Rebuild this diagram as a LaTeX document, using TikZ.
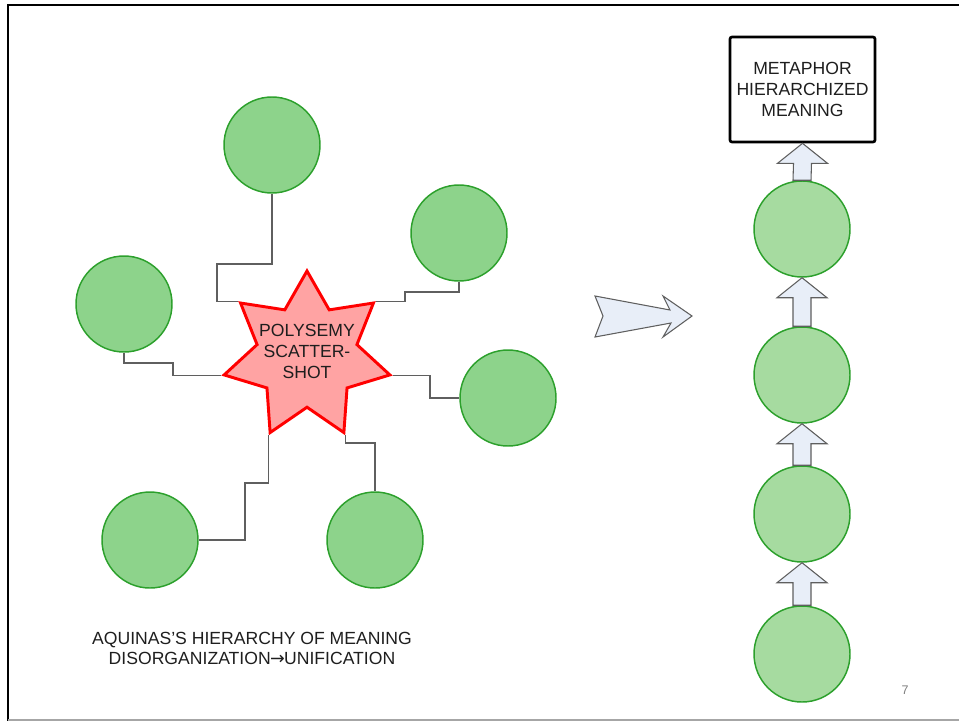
\documentclass[tikz,border=0pt]{standalone}
\usepackage{fontspec}
\setmainfont{Liberation Sans}
\newfontfamily\arrowfont{DejaVu Sans}
\usepackage{tikz}
\usetikzlibrary{shapes.geometric,calc}
\definecolor{leafgreen} {RGB}{141,211,139}
\definecolor{stemgreen} {RGB}{166,219,160}
\definecolor{ringgreen} {RGB}{44,160,44}
\definecolor{starpink}  {RGB}{255,163,163}
\definecolor{arrowblue} {RGB}{232,238,248}
\definecolor{linegray}  {RGB}{95,95,95}
\definecolor{inkgray}   {RGB}{30,30,30}
\tikzset{
  leaf/.style   ={circle, draw=ringgreen, line width=1.1pt, fill=leafgreen,
                  minimum size=72pt, inner sep=0pt},
  stem/.style   ={leaf, fill=stemgreen},
  burst/.style  ={star, star points=7, star point ratio=1.66,
                  draw=red, line width=2.2pt, fill=starpink,
                  minimum size=127.5pt, inner sep=0pt},
  lbl/.style    ={align=center, text=inkgray, inner sep=0pt,
                  font=\fontsize{13.2pt}{15.75pt}\selectfont},
  topbox/.style ={draw=black, line width=2pt, rounded corners=1.5pt,
                  fill=white, minimum width=108.75pt, minimum height=78.75pt,
                  lbl},
  link/.style   ={draw=linegray, line width=0.9pt},
  blockarr/.style={draw=linegray, line width=0.8pt, fill=arrowblue,
                  line join=miter},
}
% upward block arrow from node #1 (base) to node #2 (tip)
\newcommand{\uparr}[2]{%
  \draw[blockarr] ($(#1.north)+(-6.75pt,0)$) -- ($(#2.south)+(-6.75pt,-15pt)$)
    -- ($(#2.south)+(-18.75pt,-15pt)$) -- (#2.south)
    -- ($(#2.south)+(18.75pt,-15pt)$) -- ($(#2.south)+(6.75pt,-15pt)$)
    -- ($(#1.north)+(6.75pt,0)$) -- cycle;}

\begin{document}
\begin{tikzpicture}[x=0.75pt,y=-0.75pt]
  \useasboundingbox (0,0) rectangle (959,721);
  % frame
  \draw[line width=2pt] (959,5) -- (8,5) -- (8,721);
  \draw[gray!70, line width=0.9pt] (8,720) -- (959,720);

  % scattered meanings
  \node[burst] (star) at (307,356) {};
  \node[lbl] (poly) at (307,351) {POLYSEMY\\SCATTER-\\SHOT};

  \node[leaf] (c1) at (272,145) {};
  \node[leaf] (c2) at (459,233) {};
  \node[leaf] (c3) at (124,304) {};
  \node[leaf] (c4) at (508,398) {};
  \node[leaf] (c5) at (150,540) {};
  \node[leaf] (c6) at (375,540) {};

  \draw[link] (c1.south) |- (217,264) |- (star.outer point 2);
  \draw[link] (c2.south) |- (405,292) |- (star.outer point 7);
  \draw[link] (c3.south) |- (173,363) |- (star.outer point 3);
  \draw[link] (star.outer point 6) -| (430,398) -- (c4.west);
  \draw[link] (star.outer point 4) |- (245,483) |- (c5.east);
  \draw[link] (star.outer point 5) |- (375,443) -- (c6.north);

  % big arrow
  \draw[blockarr] (595,296) -- (670,310) -- (663,296) -- (692,316)
    -- (663,337) -- (671,323) -- (595,337) -- (603,316) -- cycle;

  % hierarchy
  \node[topbox] (meta) at (802.5,89.5) {METAPHOR\\HIERARCHIZED\\MEANING};
  \node[stem] (h1) at (802,229) {};
  \node[stem] (h2) at (802,375) {};
  \node[stem] (h3) at (802,514) {};
  \node[stem] (h4) at (802,654) {};
  \uparr{h1}{meta}
  \uparr{h2}{h1}
  \uparr{h3}{h2}
  \uparr{h4}{h3}

  \node[lbl, font=\fontsize{13.2pt}{15pt}\selectfont] (title) at (252,648)
    {AQUINAS'S HIERARCHY OF MEANING\\DISORGANIZATION{\arrowfont\kern-0.5pt→\kern-0.5pt}UNIFICATION};
  \node[text=gray, font=\fontsize{9.4pt}{11pt}\selectfont] (page) at (905,690) {7};
\end{tikzpicture}
\end{document}
